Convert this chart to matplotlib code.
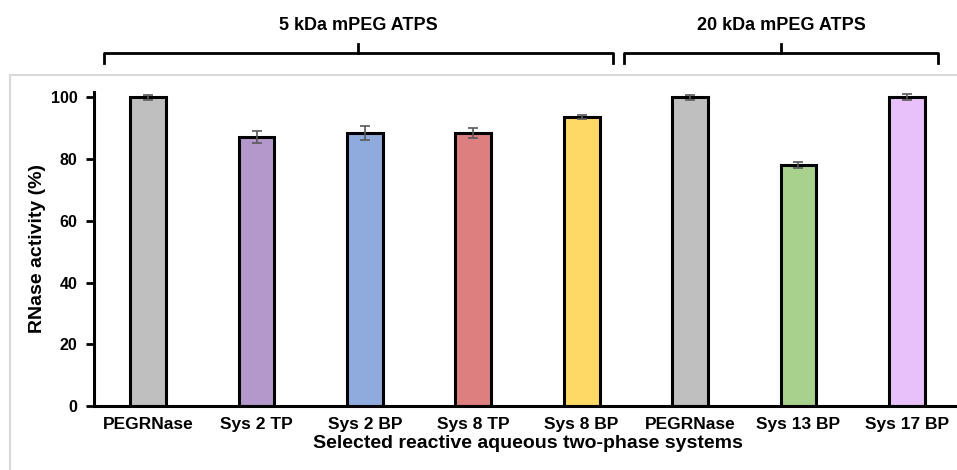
import matplotlib
matplotlib.use("Agg")
import matplotlib.pyplot as plt
from matplotlib.patches import Rectangle
from matplotlib.lines import Line2D

plt.rcParams['font.family'] = ['Liberation Sans', 'DejaVu Sans']
plt.rcParams['font.weight'] = 'bold'

categories = ["PEGRNase", "Sys 2 TP", "Sys 2 BP", "Sys 8 TP", "Sys 8 BP",
              "PEGRNase", "Sys 13 BP", "Sys 17 BP"]
values = [100.0, 87.2, 88.4, 88.4, 93.5, 100.0, 78.0, 100.0]
errors = [0.8, 2.0, 2.2, 1.6, 0.6, 0.8, 1.0, 1.0]
colors = ["#BFBFBF", "#B498CB", "#8FAADC", "#DE7F7F", "#FFD966",
          "#BFBFBF", "#A9D18E", "#E8C0FA"]
yticks = [0, 20, 40, 60, 80, 100]
group_labels = ["5 kDa mPEG ATPS", "20 kDa mPEG ATPS"]

W, H = 957, 470
fig = plt.figure(figsize=(W / 100, H / 100), dpi=100)

# outer light frame
fig.patches.append(Rectangle((10 / W, -0.05), 1.1, 1 - 75 / H + 0.05,
                             transform=fig.transFigure, fill=False,
                             edgecolor="#D9D9D9", lw=1.5))

ax = fig.add_axes([94 / W, 1 - 406 / H, 867 / W, (406 - 91.7) / H])
x = list(range(len(categories)))
ax.bar(x, values, width=0.33, color=colors, edgecolor="black", linewidth=2.2,
       zorder=2)
ax.errorbar(x, values, yerr=errors, fmt="none", ecolor="#595959",
            elinewidth=1.2, capsize=3.5, capthick=1.2, zorder=3)
ax.set_xlim(-0.5, 7.5)
ax.set_ylim(0, 101.8)
ax.set_yticks(yticks)
ax.set_xticks(x)
ax.set_xticklabels(categories, fontsize=12.5, fontweight="bold")
ax.tick_params(axis="y", labelsize=11.5, length=6, width=2, direction="out", pad=6)
ax.tick_params(axis="x", length=0, pad=8)
for lab in ax.get_yticklabels():
    lab.set_fontweight("bold")
for s in ["top", "right"]:
    ax.spines[s].set_visible(False)
for s in ["left", "bottom"]:
    ax.spines[s].set_linewidth(2.2)
ax.set_ylabel("RNase activity (%)", fontsize=14, fontweight="bold", labelpad=3)
ax.set_xlabel("Selected reactive aqueous two-phase systems", fontsize=14,
              fontweight="bold", labelpad=2)

# group brackets (span in data units of the x axis)
spans = [(-0.41, 4.29), (4.39, 7.29)]
inv = fig.transFigure.inverted()
for (a, b), lab in zip(spans, group_labels):
    x0 = inv.transform(ax.transData.transform((a, 0)))[0]
    x1 = inv.transform(ax.transData.transform((b, 0)))[0]
    xm = (x0 + x1) / 2
    yb = 1 - 53 / H
    ye = 1 - 63 / H
    yt = 1 - 44 / H
    for xs, ys in [([x0, x0, x1, x1], [ye, yb, yb, ye]), ([xm, xm], [yb, yt])]:
        fig.add_artist(Line2D(xs, ys, transform=fig.transFigure, color="black",
                              lw=2, solid_joinstyle="round"))
    fig.text(xm, 1 - 25 / H, lab, ha="center", va="center", fontsize=13,
             fontweight="bold")

fig.savefig("out.png", dpi=100)
